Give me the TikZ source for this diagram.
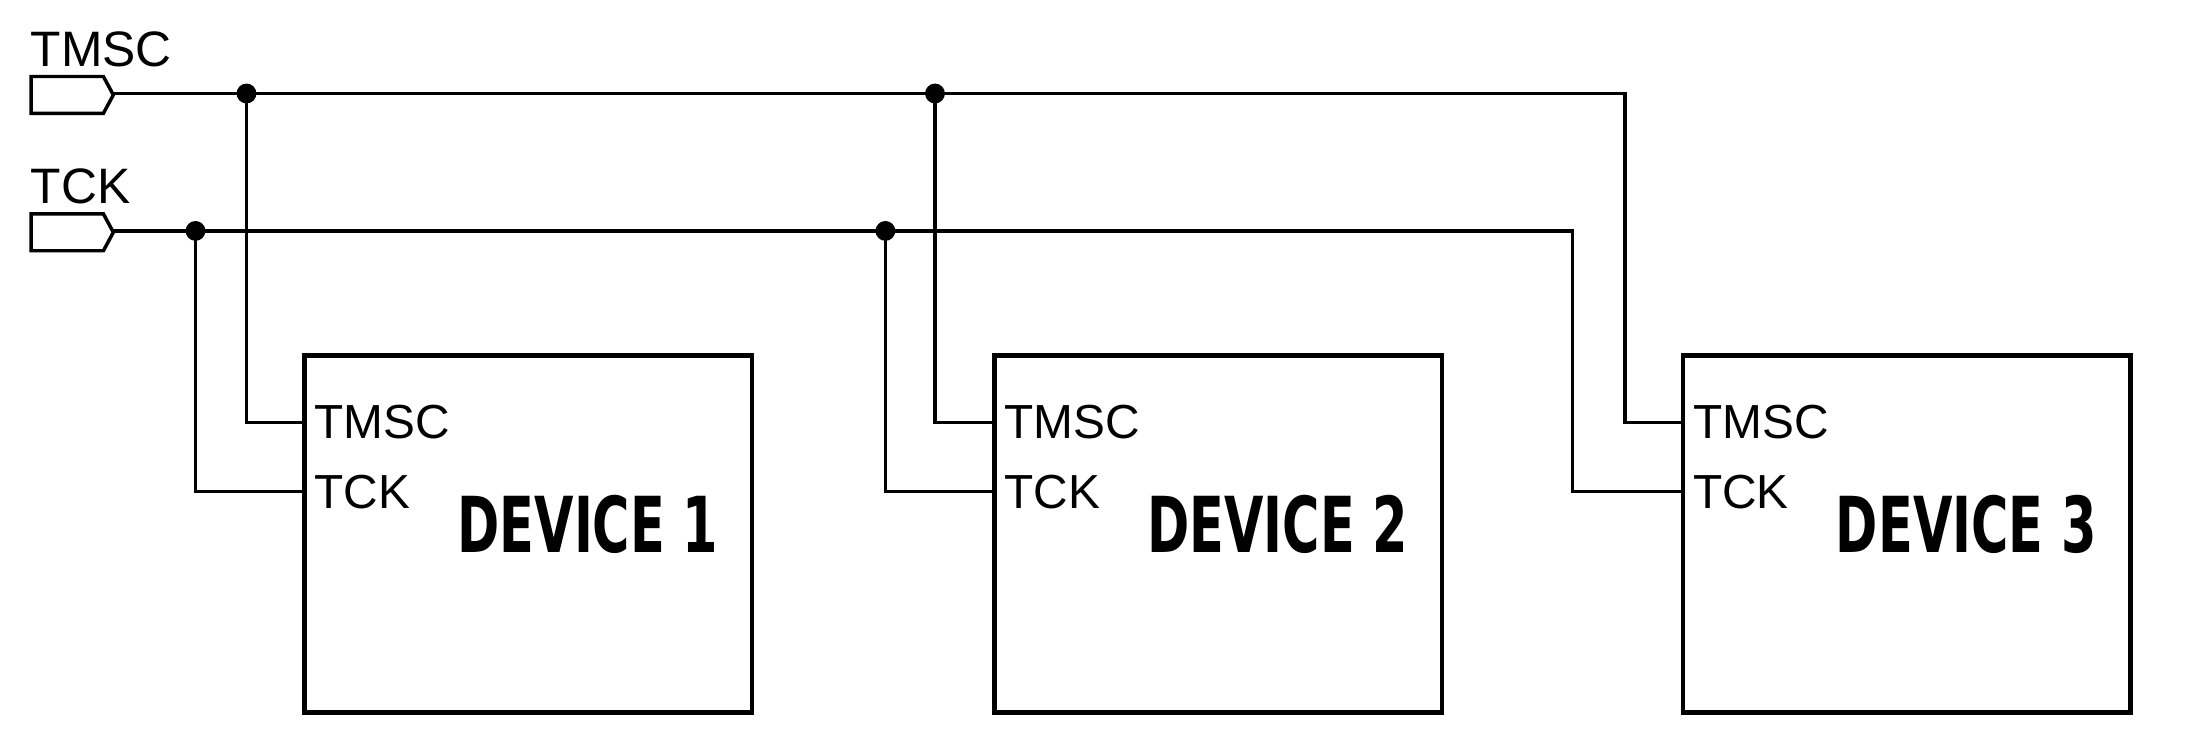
\documentclass[tikz,border=0pt]{standalone}
\usepackage{fontspec}
\setmainfont{Liberation Sans}
\newfontfamily\devfont[FakeStretch=0.66]{DejaVu Sans}
\usetikzlibrary{positioning}

\tikzset{
  wire/.style={line width=0.65pt},
  device/.style={draw, line width=0.9pt, minimum width=31.6mm, minimum height=25.2mm, inner sep=0pt},
  pin/.style={font=\fontsize{9.6}{9.6}\selectfont, anchor=west, inner sep=0pt},
  sig/.style={font=\fontsize{10}{10}\selectfont, anchor=south west, inner sep=0pt},
  devlabel/.style={font=\devfont\bfseries\fontsize{15.5}{15.5}\selectfont, inner sep=0pt},
  junction/.style={circle, fill, inner sep=0pt, minimum size=1.4mm}
}

\begin{document}
\begin{tikzpicture}[x=0.1mm,y=-0.1mm]
\useasboundingbox (0,0) rectangle (1560,528);

% Input ports
\draw[line width=0.7pt] (22,54) -- (73,54) -- (80,67) -- (73,80) -- (22,80) -- cycle;
\draw[line width=0.7pt] (22,151) -- (73,151) -- (80,164) -- (73,177) -- (22,177) -- cycle;
\coordinate (tmsc) at (80,66);
\coordinate (tck) at (80,163);
\node[sig] (tmsclbl) at (21,48) {TMSC};
\node[sig] (tcklbl) at (21,145) {TCK};

% Devices
\foreach \i/\x in {1/373, 2/860, 3/1346} {
  \node[device] (dev\i) at (\x,377) {};
  \node[devlabel] (name\i) at ([xshift=4.2mm,yshift=2pt]dev\i.center) {DEVICE \i};
  \coordinate (ms\i) at (dev\i.west |- 0,298);
  \coordinate (ck\i) at (dev\i.west |- 0,347);
  \node[pin, right=0.8mm of ms\i] (msp\i) {TMSC};
  \node[pin, right=0.8mm of ck\i] (ckp\i) {TCK};
}

% Bus taps
\coordinate (j1) at (174,66);
\coordinate (j2) at (660,66);
\coordinate (k1) at (138,163);
\coordinate (k2) at (625,163);
\coordinate (m3) at (1147,66);
\coordinate (c3) at (1110,163);

\draw[wire] (tmsc) -- (m3) |- (ms3);
\draw[wire] (tck) -- (c3) |- (ck3);
\draw[wire] (j1) |- (ms1);
\draw[wire] (k1) |- (ck1);
\draw[wire] (j2) |- (ms2);
\draw[wire] (k2) |- (ck2);

\foreach \j in {j1,j2,k1,k2} \node[junction] at (\j) {};

\end{tikzpicture}
\end{document}
